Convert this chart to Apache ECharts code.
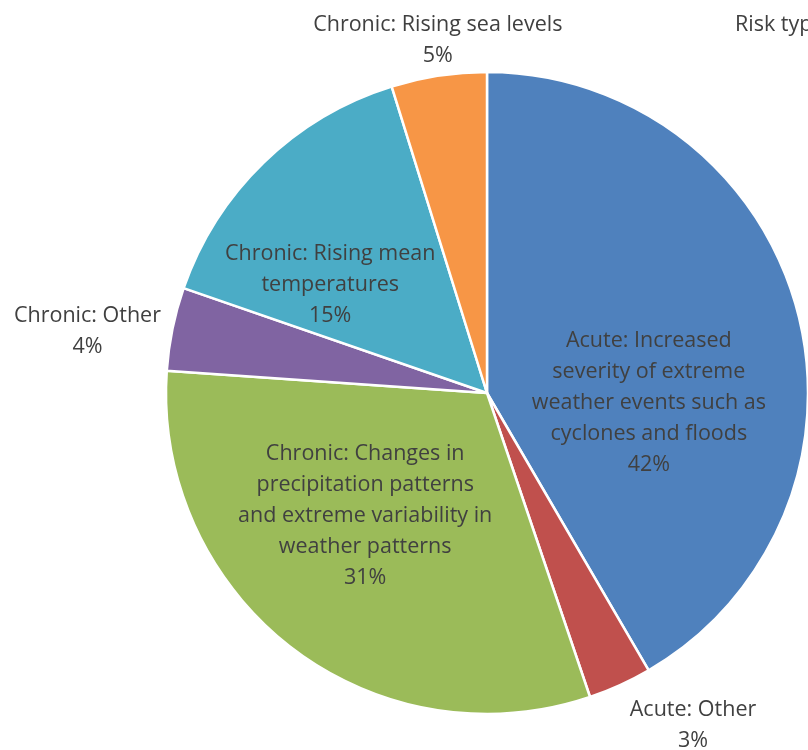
<!DOCTYPE html>
<html><head><meta charset="utf-8">
<script src="https://cdn.jsdelivr.net/npm/echarts@6/dist/echarts.min.js"></script>
<style>html,body{margin:0;padding:0;background:#fff}#c{width:808px;height:750px}</style>
</head><body><div id="c"></div>
<script>
const categories = [
  "Acute: Increased\nseverity of extreme\nweather events such as\ncyclones and floods",
  "Acute: Other",
  "Chronic: Changes in\nprecipitation patterns\nand extreme variability in\nweather patterns",
  "Chronic: Other",
  "Chronic: Rising mean\ntemperatures",
  "Chronic: Rising sea levels"
];
const values = [41.6, 3.2, 31.3, 4.2, 14.9, 4.8];
const colors = ["#4F81BD", "#C0504D", "#9BBB59", "#8064A2", "#4BACC6", "#F79646"];
const legendTitle = "Risk type";

const FONT = "Open Sans";
const inside = [true, false, true, false, true, false];
const offsets = [[4, 53], [73, 40], [-22, -7], [-85, 2], [-43, 9], [-1, -35]];

const chart = echarts.init(document.getElementById('c'), null, {renderer: 'canvas'});
chart.setOption({
  animation: false,
  graphic: [{type: 'text', left: 735, top: 14, style: {text: legendTitle, font: '21.5px "' + FONT + '"', fill: '#404040'}}],
  series: [{
    type: 'pie',
    center: [487, 393],
    radius: 321,
    startAngle: 90,
    clockwise: true,
    avoidLabelOverlap: false,
    itemStyle: {borderColor: '#fff', borderWidth: 2.5},
    label: {
      fontFamily: FONT, fontSize: 21.5, lineHeight: 31, color: '#404040',
      formatter: p => p.name + '\n' + Math.round(p.percent) + '%'
    },
    labelLine: {show: false},
    labelLayout: function (p) {
      const o = offsets[p.dataIndex];
      const r = {dx: o[0], dy: o[1]};
      if (!inside[p.dataIndex]) { r.align = 'center'; r.verticalAlign = 'middle'; }
      return r;
    },
    data: categories.map((c, i) => ({
      name: c, value: values[i],
      itemStyle: {color: colors[i]},
      label: {position: inside[i] ? 'inside' : 'outside', distanceToLabelLine: 0},
      labelLine: {show: false, length: 0, length2: 0}
    }))
  }]
});
</script></body></html>
